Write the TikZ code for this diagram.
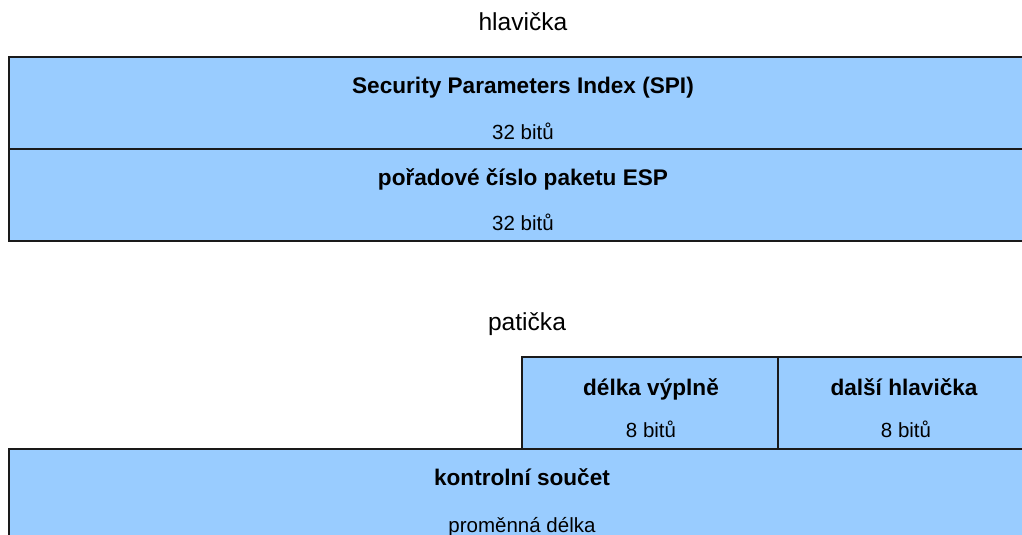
\documentclass[tikz,border=0pt]{standalone}
\usepackage{fontspec}
\setmainfont{Liberation Sans}
\definecolor{fieldblue}{HTML}{99CCFF}
\definecolor{edge}{HTML}{1A1A1A}
\tikzset{
  field/.style={draw=edge, line width=1.6pt, fill=fieldblue, rectangle, inner sep=0pt, anchor=north west},
  sectiontitle/.style={anchor=base, inner sep=0pt, font=\fontsize{24.6}{28}\selectfont},
  fieldname/.style={anchor=base, inner sep=0pt, font=\fontsize{22.6}{26}\selectfont\bfseries},
  fieldsize/.style={anchor=base, inner sep=0pt, font=\fontsize{20.5}{24}\selectfont}
}
\begin{document}
\begin{tikzpicture}[x=1pt, y=-1pt]
  \useasboundingbox (0,0) rectangle (1022,535);
  \fill[white] (0,0) rectangle (1022,535);
  \clip (0,0) rectangle (1022,535);

  % header
  \node[sectiontitle] (hdr) at (523,31) {hlavička};
  \node[field, minimum width=1030pt, minimum height=92pt] (spi) at (8,56) {};
  \node[field, minimum width=1030pt, minimum height=92pt] (seq) at (8,148) {};
  \node[fieldname] (spiname) at (523,93) {Security Parameters Index (SPI)};
  \node[fieldsize] (spisize) at (523,139) {32 bitů};
  \node[fieldname] (seqname) at (523,185) {pořadové číslo paketu ESP};
  \node[fieldsize] (seqsize) at (523,230) {32 bitů};

  % trailer
  \node[sectiontitle] (trl) at (527,330) {patička};
  \node[field, minimum width=256pt, minimum height=92pt] (pad) at (521,356) {};
  \node[field, minimum width=260pt, minimum height=92pt] (nxt) at (777,356) {};
  \node[field, minimum width=1030pt, minimum height=120pt] (icv) at (8,448) {};
  \node[fieldname] (padname) at (651,395) {délka výplně};
  \node[fieldsize] (padsize) at (651,437) {8 bitů};
  \node[fieldname] (nxtname) at (904,395) {další hlavička};
  \node[fieldsize] (nxtsize) at (906,437) {8 bitů};
  \node[fieldname] (icvname) at (522,485) {kontrolní součet};
  \node[fieldsize] (icvsize) at (522,532) {proměnná délka};
\end{tikzpicture}
\end{document}
